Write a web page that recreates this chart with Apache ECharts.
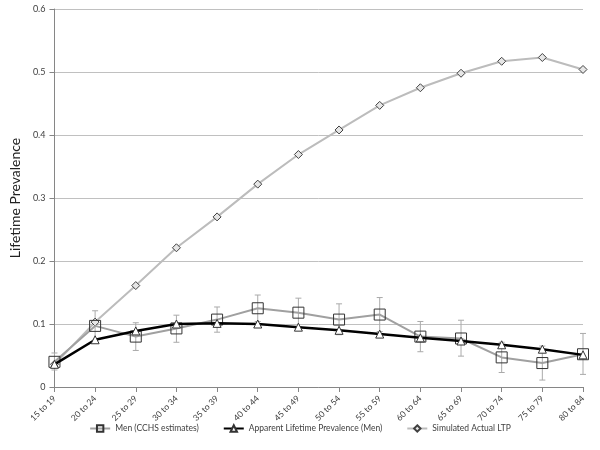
<!DOCTYPE html>
<html>
<head>
<meta charset="utf-8">
<script src="https://cdn.jsdelivr.net/npm/echarts@6/dist/echarts.min.js"></script>
<style>html,body{margin:0;padding:0;background:#fff}#c{width:600px;height:450px}</style>
</head>
<body>
<div id="c"></div>
<script>
var categories = ['15 to 19','20 to 24','25 to 29','30 to 34','35 to 39','40 to 44','45 to 49','50 to 54','55 to 59','60 to 64','65 to 69','70 to 74','75 to 79','80 to 84'];
var menCCHS = [0.040,0.097,0.080,0.093,0.107,0.125,0.118,0.107,0.115,0.080,0.077,0.047,0.038,0.052];
var menLow  = [0.027,0.074,0.058,0.071,0.087,0.104,0.096,0.083,0.088,0.056,0.049,0.023,0.011,0.020];
var menHigh = [0.054,0.121,0.102,0.114,0.127,0.146,0.141,0.132,0.142,0.104,0.106,0.071,0.065,0.085];
var apparent = [0.036,0.075,0.089,0.100,0.101,0.100,0.095,0.090,0.084,0.078,0.073,0.067,0.060,0.051];
var simulated = [0.036,0.103,0.161,0.221,0.270,0.322,0.369,0.408,0.447,0.475,0.498,0.517,0.523,0.504];
var yTicks = [0,0.1,0.2,0.3,0.4,0.5,0.6];

var chart = echarts.init(document.getElementById('c'), null, {renderer:'canvas'});
var font = 'Lato, "Open Sans", sans-serif';
var errData = categories.map(function(c,i){return [i, menLow[i], menHigh[i]];});
chart.setOption({
  animation:false,
  grid:{left:51,right:17,top:9,bottom:63,containLabel:false},
  legend:{
    bottom:12, left:'center', itemGap:24, itemWidth:20, itemHeight:8,
    textStyle:{fontFamily:font,fontSize:8.5,color:'#404040'},
    data:['Men (CCHS estimates)','Apparent Lifetime Prevalence (Men)','Simulated Actual LTP']
  },
  xAxis:{
    type:'category', data:categories, boundaryGap:false,
    axisLine:{lineStyle:{color:'#868686',width:1}},
    axisTick:{show:true,alignWithLabel:true,length:5,lineStyle:{color:'#868686'}},
    axisLabel:{rotate:45,fontFamily:font,fontSize:8.5,color:'#404040',margin:10,interval:0},
    splitLine:{show:false}
  },
  yAxis:{
    type:'value', min:0, max:0.6, interval:0.1,
    name:'Lifetime Prevalence', nameLocation:'middle', nameGap:28,
    nameTextStyle:{fontFamily:font,fontSize:14,color:'#222'},
    axisLine:{show:true,lineStyle:{color:'#868686'}},
    axisTick:{show:true,length:5,lineStyle:{color:'#868686'}},
    axisLabel:{fontFamily:font,fontSize:9,color:'#404040',margin:9,
      formatter:function(v){return yTicks.indexOf(Math.round(v*10)/10)>=0 ? String(Math.round(v*10)/10) : '';}},
    splitLine:{show:true,lineStyle:{color:'#c0c0c0',width:1}}
  },
  series:[
    {
      name:'errorbars', type:'custom', data:errData, z:1, silent:true,
      renderItem:function(params, api){
        var x = api.value(0);
        var lo = api.coord([x, api.value(1)]);
        var hi = api.coord([x, api.value(2)]);
        var hw = 3;
        var st = {stroke:'#aaaaaa', lineWidth:1};
        return {type:'group', children:[
          {type:'line', shape:{x1:lo[0],y1:lo[1],x2:hi[0],y2:hi[1]}, style:st},
          {type:'line', shape:{x1:lo[0]-hw,y1:lo[1],x2:lo[0]+hw,y2:lo[1]}, style:st},
          {type:'line', shape:{x1:hi[0]-hw,y1:hi[1],x2:hi[0]+hw,y2:hi[1]}, style:st}
        ]};
      }
    },
    {
      name:'Simulated Actual LTP', type:'line', data:simulated, z:2,
      lineStyle:{color:'#bcbcbc',width:2},
      symbol:'diamond', symbolSize:8, showAllSymbol:true,
      itemStyle:{color:'#e6e6e6',borderColor:'#404040',borderWidth:1}
    },
    {
      name:'Men (CCHS estimates)', type:'line', data:menCCHS, z:3,
      lineStyle:{color:'#a0a0a0',width:2},
      symbol:'rect', symbolSize:11, showAllSymbol:true,
      itemStyle:{color:'rgba(255,255,255,0)',borderColor:'#333333',borderWidth:1}
    },
    {
      name:'Apparent Lifetime Prevalence (Men)', type:'line', data:apparent, z:4,
      lineStyle:{color:'#000000',width:2.5},
      symbol:'triangle', symbolSize:8, showAllSymbol:true,
      itemStyle:{color:'#ffffff',borderColor:'#333333',borderWidth:1}
    }
  ]
});
</script>
</body>
</html>
